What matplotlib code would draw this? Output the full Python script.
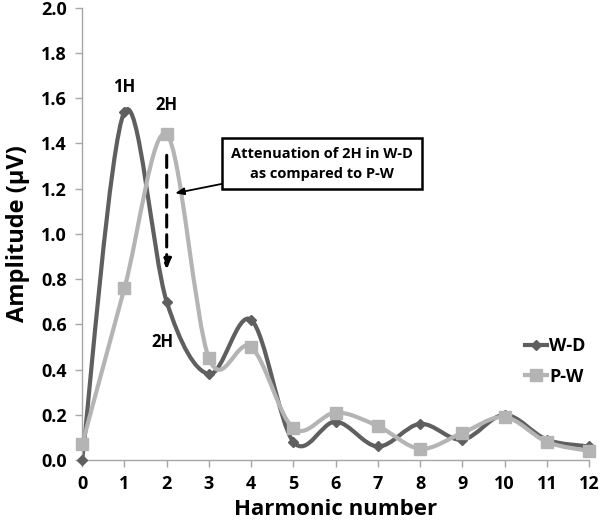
import numpy as np
import matplotlib
matplotlib.use("Agg")
import matplotlib.pyplot as plt
from matplotlib.path import Path
from matplotlib.patches import PathPatch
from matplotlib.lines import Line2D

plt.rcParams['font.family'] = ['Open Sans', 'DejaVu Sans']
plt.rcParams['font.weight'] = 'bold'

harmonics = np.arange(13)
wd_values = [0.00, 1.54, 0.70, 0.38, 0.62, 0.08, 0.17, 0.06, 0.16, 0.09, 0.20, 0.09, 0.06]
pw_values = [0.07, 0.76, 1.44, 0.45, 0.50, 0.14, 0.21, 0.15, 0.05, 0.12, 0.19, 0.08, 0.04]
series_names = ['W-D', 'P-W']

WD_COLOR = '#5f5f5f'
PW_COLOR = '#b4b4b4'
AXIS_COLOR = '#a6a6a6'


def smooth_path(x, y):
    """Excel-like smoothed line as cubic Bezier segments (Catmull-Rom)"""
    pts = np.column_stack([x, y]).astype(float)
    n = len(pts)
    verts = [pts[0]]
    codes = [Path.MOVETO]
    for i in range(n - 1):
        p0 = pts[max(i - 1, 0)]
        p1 = pts[i]
        p2 = pts[i + 1]
        p3 = pts[min(i + 2, n - 1)]
        c1 = p1 + (p2 - p0) / 6.0
        c2 = p2 - (p3 - p1) / 6.0
        verts += [c1, c2, p2]
        codes += [Path.CURVE4] * 3
    return Path(verts, codes)


fig = plt.figure(figsize=(6.0, 5.21), dpi=100)
ax = fig.add_axes([0.137, 0.117, 0.845, 0.868])

for vals, color, marker, ms in [(wd_values, WD_COLOR, 'D', 5),
                                (pw_values, PW_COLOR, 's', 8)]:
    ax.add_patch(PathPatch(smooth_path(harmonics, vals), facecolor='none',
                           edgecolor=color, lw=3.0, capstyle='round', zorder=2))
    ax.plot(harmonics, vals, linestyle='none', marker=marker, ms=ms,
            color=color, clip_on=False, zorder=3)

ax.set_xlim(0, 12)
ax.set_ylim(0, 2.0)
ax.set_xticks(harmonics)
ax.set_yticks(np.arange(0, 2.01, 0.2))
ax.set_yticklabels([f"{v:.1f}" for v in np.arange(0, 2.01, 0.2)])

for side in ['top', 'right']:
    ax.spines[side].set_visible(False)
for side in ['left', 'bottom']:
    ax.spines[side].set_color(AXIS_COLOR)
    ax.spines[side].set_linewidth(1.0)
ax.tick_params(axis='both', colors=AXIS_COLOR, length=5, width=1.0,
               labelcolor='black', labelsize=13, pad=6)

ax.set_xlabel('Harmonic number', fontsize=16, fontweight='bold', labelpad=4)
ax.set_ylabel('Amplitude (\u03bcV)', fontsize=17, fontweight='bold', labelpad=8)

# peak labels
ax.text(1.0, 1.65, '1H', ha='center', va='center', fontsize=12, fontweight='bold')
ax.text(2.0, 1.57, '2H', ha='center', va='center', fontsize=12, fontweight='bold')
ax.text(1.9, 0.52, '2H', ha='center', va='center', fontsize=12, fontweight='bold')

# dashed attenuation arrow
ax.annotate('', xy=(2.0, 0.83), xytext=(2.0, 1.36),
            arrowprops=dict(arrowstyle='-|>,head_width=0.25,head_length=0.6',
                            color='black', lw=2.2, linestyle=(0, (4, 2.5))))

# callout box
ax.annotate('Attenuation of 2H in W-D\nas compared to P-W', xy=(2.2, 1.18),
            xytext=(5.68, 1.31), ha='center', va='center', fontsize=10.5,
            fontweight='bold', linespacing=1.5,
            bbox=dict(boxstyle='square,pad=0.6', fc='white', ec='black', lw=1.8),
            arrowprops=dict(arrowstyle='-|>,head_width=0.2,head_length=0.5',
                            color='black', lw=1.3, shrinkA=0, shrinkB=0))

handles = [Line2D([], [], color=WD_COLOR, lw=3.0, marker='D', ms=5),
           Line2D([], [], color=PW_COLOR, lw=3.0, marker='s', ms=8)]
ax.legend(handles, series_names, loc='center left', bbox_to_anchor=(0.86, 0.218),
          frameon=False, fontsize=13, handlelength=1.2, handletextpad=0.1,
          labelspacing=0.7, borderaxespad=0)

fig.savefig('out.png', dpi=100)
